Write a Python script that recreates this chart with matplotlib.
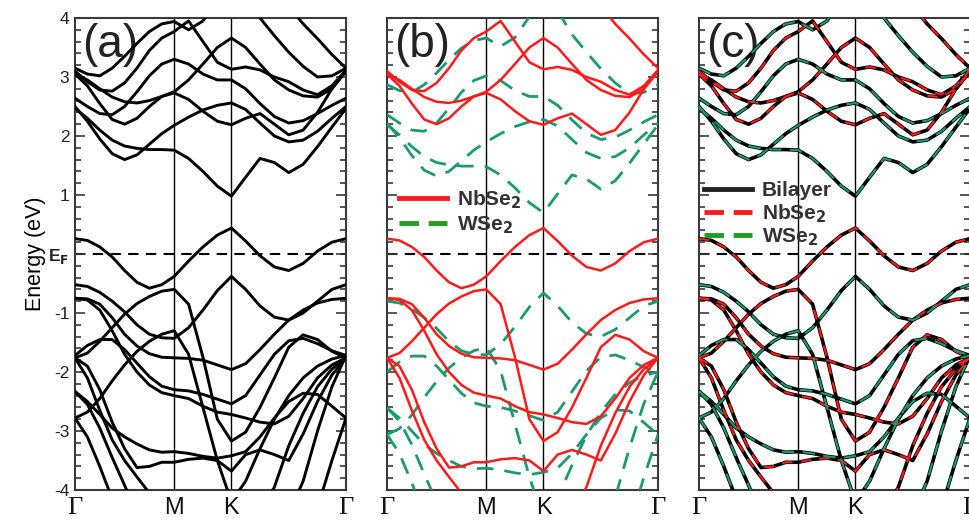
import numpy as np
import matplotlib.pyplot as plt
from matplotlib.lines import Line2D
from matplotlib.ticker import MultipleLocator

plt.rcParams['font.family'] = ['Liberation Sans', 'DejaVu Sans']

nan = np.nan
# k-path positions: Gamma - M - K - Gamma
k_pts = [0, 0.125, 0.25, 0.375, 0.5, 0.625, 0.75, 0.875, 1.0, 1.145, 1.29, 1.435, 1.577,
         1.72, 1.865, 2.01, 2.155, 2.3, 2.445, 2.59, 2.732]
k_ticks = [0, 1.0, 1.577, 2.732]
k_labels = ['Γ', 'M', 'K', 'Γ']

# NbSe2 monolayer bands (eV)
nb1 = [0.26, 0.23, 0.12, -0.05, -0.28, -0.48, -0.58, -0.52, -0.38, -0.12, 0.12, 0.32, 0.44,
       0.22, -0.03, -0.22, -0.28, -0.16, 0.05, 0.2, 0.26]
nb2 = [3.05, 2.85, 2.55, 2.28, 2.2, 2.3, 2.5, 2.67, 2.73, 2.62, 2.42, 2.25, 2.19,
       2.3, 2.38, 2.2, 2.02, 2.1, 2.4, 2.8, 3.1]
nb3 = [3.1, 2.92, 2.78, 2.76, 2.9, 3.15, 3.45, 3.66, 3.77, 3.95, 3.6, 3.25, 3.13,
       3.17, 3.12, 3.0, 2.92, 2.78, 2.7, 2.85, 3.12]
nb4 = [3.05, 2.95, 2.8, 2.66, 2.58, 2.56, 2.6, 2.67, 2.75, 2.95, 3.22, 3.5, 3.66,
       3.5, 3.22, 2.95, 2.78, 2.68, 2.66, 2.8, 3.1]
nb5 = [nan, nan, nan, nan, nan, nan, nan, nan, nan, nan, nan, nan, nan,
       nan, nan, 4.5, 4.2, 3.9, 3.65, 3.38, 3.15]
nb6 = [-1.76, -1.68, -1.48, -1.25, -1.02, -0.84, -0.72, -0.63, -0.6, -0.85, -1.75, -2.8, -3.17,
       -3.02, -2.6, -2.1, -1.58, -1.37, -1.45, -1.65, -1.76]
nb7 = [-0.75, -0.76, -0.85, -1.08, -1.36, -1.56, -1.69, -1.75, -1.76, -1.77, -1.8, -1.88, -1.96,
       -1.86, -1.62, -1.36, -1.12, -0.95, -0.83, -0.77, -0.75]
nb8 = [-0.75, -0.78, -0.95, -1.3, -1.7, -2.0, -2.22, -2.35, -2.4, -2.45, -2.58, -2.68, -2.72,
       -2.78, -2.85, -2.88, -2.75, -2.45, -2.1, -1.88, -1.76]
nb9 = [-1.76, -1.9, -2.3, -2.85, -3.3, -3.62, -3.6, -3.53, -3.53, -3.48, -3.46, -3.5, -3.68,
       -3.4, -3.32, -3.4, -3.5, -3.05, -2.5, -2.05, -1.76]
nb10 = [-1.76, -2.1, -2.65, -3.15, -3.5, -3.78, -4.05, -4.4, nan, nan, nan, nan, nan,
        nan, -4.4, -3.95, -3.25, -2.7, -2.25, -1.95, -1.76]
nbse2 = [nb1, nb2, nb3, nb4, nb5, nb6, nb7, nb8, nb9, nb10]

# WSe2 monolayer bands as aligned in the bilayer (eV)
wv1 = [-0.52, -0.55, -0.65, -0.8, -0.98, -1.2, -1.36, -1.42, -1.43, -1.25, -0.95, -0.62, -0.38,
       -0.6, -0.88, -1.07, -1.12, -1.0, -0.8, -0.6, -0.52]
wv2 = [-1.72, -1.55, -1.45, -1.45, -1.62, -1.85, -2.08, -2.24, -2.3, -2.32, -2.38, -2.46, -2.54,
       -2.4, -2.05, -1.7, -1.47, -1.43, -1.52, -1.64, -1.72]
wv3 = [-2.33, -2.5, -2.72, -2.95, -3.1, -3.22, -3.32, -3.36, -3.35, -3.38, -3.43, -3.46, -3.42,
       -3.35, -3.1, -2.78, -2.5, -2.36, -2.38, -2.58, -2.78]
wv4 = [-2.33, -2.55, -2.95, -3.45, -3.92, -4.4, nan, nan, nan, nan, nan, nan, nan,
       nan, nan, nan, nan, nan, nan, nan, nan]
wv5 = [-2.78, -2.68, -2.45, -2.15, -1.88, -1.65, -1.48, -1.36, -1.3, -1.7, -2.6, -3.5, -4.2,
       -3.85, -3.3, -2.8, -2.4, -2.1, -1.9, -1.78, -1.72]
wv6 = [-2.78, -3.1, -3.6, -4.15, nan, nan, nan, nan, nan, nan, nan, nan, nan,
       nan, nan, nan, nan, nan, -4.3, -3.5, -2.78]
wv7 = [nan, nan, nan, nan, nan, nan, nan, nan, nan, nan, nan, nan, nan,
       nan, nan, nan, -4.4, -3.85, -3.0, -2.25, -1.72]
wc1 = [2.47, 2.3, 2.1, 1.93, 1.83, 1.79, 1.77, 1.77, 1.76, 1.62, 1.4, 1.15, 0.98,
       1.3, 1.62, 1.55, 1.38, 1.52, 1.82, 2.15, 2.47]
wc2 = [2.5, 2.25, 1.95, 1.7, 1.6, 1.68, 1.86, 2.04, 2.18, 2.32, 2.44, 2.52, 2.56,
       2.45, 2.22, 2.0, 1.9, 1.93, 2.08, 2.3, 2.5]
wc3 = [2.64, 2.5, 2.38, 2.36, 2.5, 2.75, 3.02, 3.22, 3.3, 3.22, 3.05, 2.95, 2.95,
       2.8, 2.55, 2.33, 2.22, 2.26, 2.38, 2.52, 2.64]
wc4 = [3.15, 3.05, 3.02, 3.15, 3.35, 3.57, 3.77, 3.9, 3.94, 3.8, 3.95, 4.3, nan,
       4.4, 4.0, 3.7, 3.42, 3.18, 3.0, 3.02, 3.15]
wse2 = [wv1, wv2, wv3, wv4, wv5, wv6, wv7, wc1, wc2, wc3, wc4]
wse2_offset = -0.28   # isolated WSe2 relative to bilayer alignment

red = '#ff1a1a'
green = '#1a9a70'
leg_green = '#1f9e1f'
axcol = '#3a3a3a'

fig = plt.figure(figsize=(9.7, 5.2), dpi=100)
lefts = [0.0773, 0.399, 0.7206]
axes = [fig.add_axes([l, 0.0577, 0.2794, 0.9077]) for l in lefts]

for i, ax in enumerate(axes):
    ax.set_xlim(0, 2.732)
    ax.set_ylim(-4, 4)
    ax.axhline(0, color='black', lw=1.5, ls=(0, (5, 3.5)), zorder=1)
    for kv in k_ticks[1:3]:
        ax.axvline(kv, color='black', lw=1.0, zorder=1)
    ax.yaxis.set_major_locator(MultipleLocator(1))
    ax.yaxis.set_minor_locator(MultipleLocator(0.2))
    ax.tick_params(axis='y', which='both', direction='in', left=True, right=True,
                   color=axcol, width=1.2, labelsize=12.5, labelcolor='#222222', pad=4)
    ax.tick_params(axis='y', which='major', length=7)
    ax.tick_params(axis='y', which='minor', length=4)
    ax.set_xticks(k_ticks)
    ax.set_xticklabels(k_labels)
    ax.tick_params(axis='x', length=0, pad=5, labelsize=17, labelcolor='#111111')
    for lab in ax.get_xticklabels():
        if lab.get_text() == 'Γ':
            lab.set_fontfamily('Liberation Serif')
            lab.set_fontsize(19)
    for sp in ax.spines.values():
        sp.set_color(axcol)
        sp.set_linewidth(1.5)
    if i == 0:
        ax.set_yticks([-4, -3, -2, -1, 0, 1, 2, 3, 4])
        ax.set_yticklabels(['-4', '-3', '-2', '-1', r'E$_\mathbf{F}$', '1', '2', '3', '4'])
        ax.get_yticklabels()[4].set_fontweight('bold')
        ax.set_ylabel('Energy (eV)', fontsize=15.5, labelpad=2)
    else:
        ax.set_yticklabels([])
    ax.text(0.025, 0.99, '(%s)' % 'abc'[i], transform=ax.transAxes, fontsize=33,
            va='top', ha='left', color='#222222')

# (a) bilayer
for b in nbse2 + wse2:
    axes[0].plot(k_pts, b, color='black', lw=2.1, zorder=3)

# (b) isolated layers
for b in wse2:
    axes[1].plot(k_pts, np.array(b) + wse2_offset, color=green, lw=2.0,
                 dashes=(6, 4), zorder=3)
for b in nbse2:
    axes[1].plot(k_pts, b, color=red, lw=1.8, zorder=4)

# (c) comparison
for b in nbse2 + wse2:
    axes[2].plot(k_pts, b, color='black', lw=2.6, zorder=3)
for b in nbse2:
    axes[2].plot(k_pts, b, color=red, lw=1.5, dashes=(5, 4), zorder=4)
for b in wse2:
    axes[2].plot(k_pts, b, color=green, lw=1.5, dashes=(6, 4), zorder=4)

leg_font = {'weight': 'bold', 'size': 15}
h_b = [Line2D([], [], color=red, lw=3.5),
       Line2D([], [], color=leg_green, lw=3.5, dashes=(4, 2))]
axes[1].legend(h_b, [r'NbSe$_\mathbf{2}$', r'WSe$_\mathbf{2}$'], loc='upper left',
               bbox_to_anchor=(0.045, 0.64), frameon=False, prop=leg_font,
               handlelength=2.3, labelspacing=0.2, handletextpad=0.45,
               borderpad=0, borderaxespad=0, labelcolor='#333333')
h_c = [Line2D([], [], color='#222222', lw=3.5),
       Line2D([], [], color=red, lw=3.5, dashes=(4, 2)),
       Line2D([], [], color=leg_green, lw=3.5, dashes=(4, 2))]
axes[2].legend(h_c, ['Bilayer', r'NbSe$_\mathbf{2}$', r'WSe$_\mathbf{2}$'], loc='upper left',
               bbox_to_anchor=(0.02, 0.655), frameon=False, prop=leg_font,
               handlelength=2.3, labelspacing=0.1, handletextpad=0.45,
               borderpad=0, borderaxespad=0, labelcolor='#333333')

fig.savefig('out.png', dpi=100)
